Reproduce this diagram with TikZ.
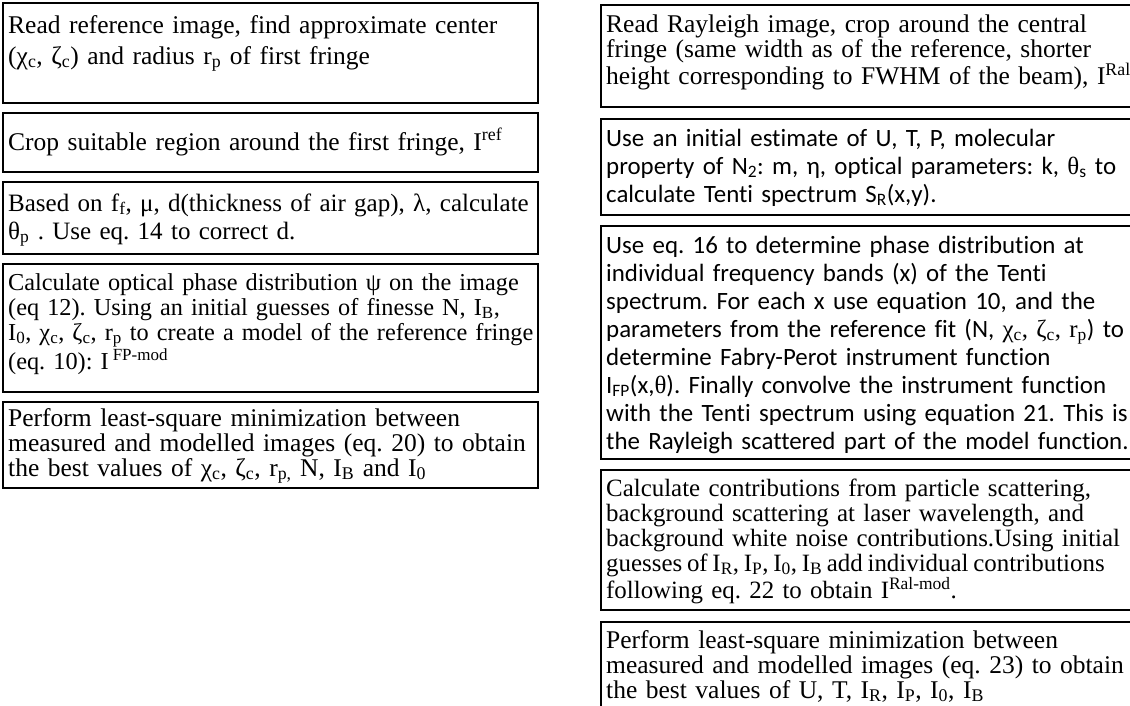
\documentclass[tikz,border=0pt]{standalone}
\usepackage{fontspec}
\setmainfont{Liberation Serif}
\newfontfamily\calibri[Ligatures={NoCommon}]{Carlito}
\frenchspacing
\lineskiplimit=-100pt
\begin{document}
\begin{tikzpicture}[x=1pt,y=-1pt,
  box/.style={line width=2pt},
  txt/.style={anchor=base west, inner sep=0pt, text width=600pt, align=left, font=\fontsize{25.5}{25}\selectfont},
  txtc/.style={txt, font=\calibri\fontsize{24.9}{28}\selectfont}]
\clip (0,0) rectangle (1130,705);
% left column: reference fringe
\draw [box] (3,3) rectangle (538,103);
\node [txt] (ref1) at (8,33) {Read reference image, find approximate center\\[6pt]
  (χ\textsubscript{c}, ζ\textsubscript{c}) and radius r\textsubscript{p} of first fringe};
\draw [box] (3,113) rectangle (538,172);
\node [txt] (ref2) at (8,150) {Crop suitable region around the first fringe, I\textsuperscript{ref}};
\draw [box] (3,182) rectangle (538,254);
\node [txt, font=\fontsize{25}{25}\selectfont] (ref3) at (8,211) {Based on f\textsubscript{f}, μ, d(thickness of air gap), λ, calculate\\[3pt]
  θ\textsubscript{p} . Use eq. 14 to correct d.};
\draw [box] (3,264) rectangle (538,392);
\node [txt, font=\fontsize{24.3}{25}\selectfont] (ref4) at (8,290) {Calculate optical phase distribution ψ on the image\\
  (eq 12). Using an initial guesses of finesse N, I\textsubscript{B},\\
  I\textsubscript{0}, χ\textsubscript{c}, ζ\textsubscript{c}, r\textsubscript{p} to create a model of the reference fringe\\
  (eq. 10): I\,\textsuperscript{FP-mod}};
\draw [box] (3,402) rectangle (538,488);
\node [txt] (ref5) at (8,426) {Perform least-square minimization between\\
  measured and modelled images (eq. 20) to obtain\\
  the best values of χ\textsubscript{c}, ζ\textsubscript{c}, r\textsubscript{p,} N, I\textsubscript{B} and I\textsubscript{0}};

% right column: Rayleigh image
\draw [box] (601,5) rectangle (1140,107);
\node [txt] (ral1) at (606,32) {Read Rayleigh image, crop around the central\\
  fringe (same width as of the reference, shorter\\
  height corresponding to FWHM of the beam), I\textsuperscript{Ral}};
\draw [box] (601,119) rectangle (1140,215);
\node [txtc] (ral2) at (606,146) {Use an initial estimate of U, T, P, molecular\\
  property of N\textsubscript{2}: m, η, optical parameters: k, {\rmfamily θ}\textsubscript{s} to\\
  calculate Tenti spectrum S\textsubscript{R}(x,y).};
\draw [box] (601,226) rectangle (1140,459);
\node [txtc] (ral3) at (606,253) {Use eq. 16 to determine phase distribution at\\
  individual frequency bands (x) of the Tenti\\
  spectrum. For each x use equation 10, and the\\
  parameters from the reference fit (N, {\rmfamily χ\textsubscript{c}, ζ\textsubscript{c}, r\textsubscript{p}}) to\\
  determine Fabry-Perot instrument function\\
  I\textsubscript{FP}(x,{\rmfamily θ}). Finally convolve the instrument function\\
  with the Tenti spectrum using equation 21. This is\\
  the Rayleigh scattered part of the model function.};
\draw [box] (601,470) rectangle (1140,610);
\node [txt, font=\fontsize{24.9}{25}\selectfont] (ral4) at (606,496) {Calculate contributions from particle scattering,\\
  background scattering at laser wavelength, and\\
  background white noise contributions.Using initial\\
  {\spaceskip=0.19em\relax guesses of I\textsubscript{R}, I\textsubscript{P}, I\textsubscript{0}, I\textsubscript{B} add individual contributions}\\
  following eq. 22 to obtain I\textsuperscript{Ral-mod}.};
\draw [box] (601,622) rectangle (1140,720);
\node [txt] (ral5) at (606,648) {Perform least-square minimization between\\
  measured and modelled images (eq. 23) to obtain\\
  the best values of U, T, I\textsubscript{R}, I\textsubscript{P}, I\textsubscript{0}, I\textsubscript{B}};
\end{tikzpicture}
\end{document}
